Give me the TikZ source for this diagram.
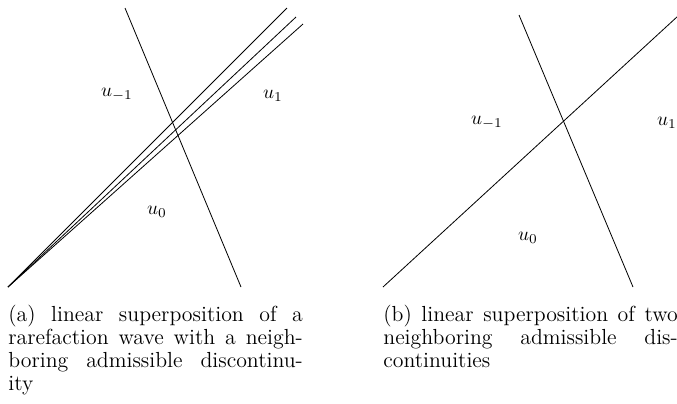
\documentclass[tikz,border=0pt]{standalone}
\newlength{\capw}
\setlength{\capw}{152.5pt}
\tikzset{
  wave/.style={line width=0.42pt, black},
  lbl/.style={inner sep=0pt, font=\fontsize{10}{12}\selectfont},
  capt/.style={inner sep=0pt, anchor=base west, font=\fontsize{11.3}{11.95}\selectfont}
}
\begin{document}
\begin{tikzpicture}[x=0.518pt, y=-0.518pt]
\useasboundingbox (0,0) rectangle (677,403);
% panel (a)
\coordinate (aO) at (8,287);
\coordinate (aF1) at (287,8);
\coordinate (aF2) at (296,17);
\coordinate (aF3) at (303,24);
\coordinate (aS1) at (125,8);
\coordinate (aS2) at (241,287);
\draw[wave] (aO) -- (aF1);
\draw[wave] (aO) -- (aF2);
\draw[wave] (aO) -- (aF3);
\draw[wave] (aS1) -- (aS2);
\node[lbl] (aum) at (117,95) {$u_{-1}$};
\node[lbl] (aup) at (273,96) {$u_1$};
\node[lbl] (auz) at (157,212) {$u_0$};
% panel (b)
\coordinate (bD1) at (383,287);
\coordinate (bD2) at (678,16);
\coordinate (bS1) at (519,15);
\coordinate (bS2) at (633,287);
\draw[wave] (bD1) -- (bD2);
\draw[wave] (bS1) -- (bS2);
\node[lbl] (bum) at (487,123) {$u_{-1}$};
\node[lbl] (bup) at (667,123) {$u_1$};
\node[lbl] (buz) at (528,238) {$u_0$};
% captions
\node[capt] (capa) at (8,321) {\parbox[t]{\capw}{%
\hbox to\capw{(a) linear superposition of a}%
\hbox to\capw{rarefaction wave with a neigh-}%
\hbox to\capw{boring admissible discontinu-}%
\hbox{ity}}};
\node[capt] (capb) at (383,321) {\parbox[t]{\capw}{%
\hbox to\capw{(b) linear superposition of two}%
\hbox to\capw{neighboring admissible dis-}%
\hbox{continuities}}};
\end{tikzpicture}
\end{document}
